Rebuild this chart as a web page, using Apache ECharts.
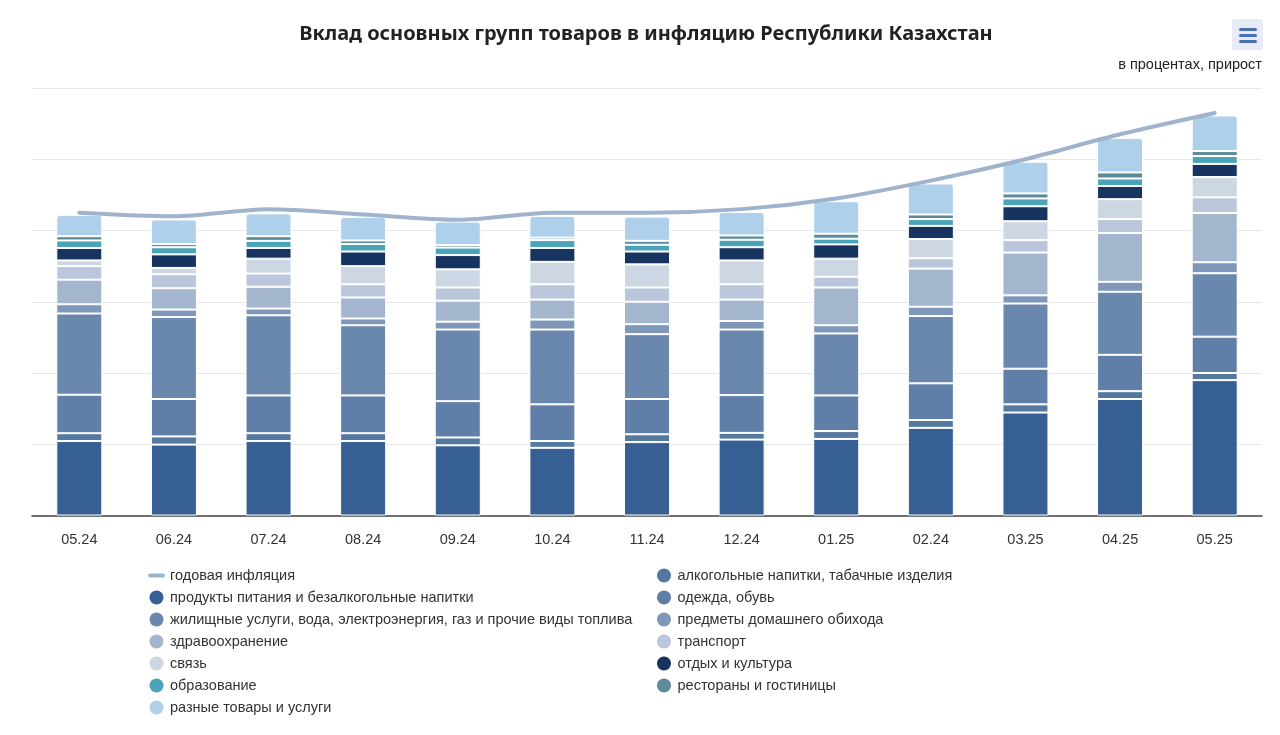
<!DOCTYPE html>
<html lang="ru">
<head>
    <meta charset="UTF-8">
    <title>Вклад основных групп товаров в инфляцию</title>
    <style>
        html, body { margin: 0; padding: 0; background: #fff; }
    </style>
</head>
<body>

<div id="main" style="width:1280px; height:735px;"></div>

<script src="https://cdn.jsdelivr.net/npm/echarts@6/dist/echarts.min.js"></script>
<script>
    // months (02.24 is written that way on the original chart)
    var months = ['05.24', '06.24', '07.24', '08.24', '09.24', '10.24', '11.24', '12.24', '01.25', '02.24', '03.25', '04.25', '05.25'];

    // percentage points
    var inflation = [8.5, 8.4, 8.6, 8.45, 8.3, 8.5, 8.5, 8.6, 8.9, 9.4, 10.0, 10.7, 11.3];
    var food = [2.09, 1.99, 2.09, 2.09, 1.97, 1.90, 2.06, 2.13, 2.15, 2.46, 2.89, 3.27, 3.80];
    var alcohol = [0.22, 0.23, 0.22, 0.22, 0.22, 0.19, 0.22, 0.19, 0.22, 0.22, 0.23, 0.22, 0.20];
    var clothing = [1.08, 1.05, 1.06, 1.06, 1.02, 1.03, 0.99, 1.06, 1.00, 1.03, 1.00, 1.02, 1.02];
    var housing = [2.28, 2.30, 2.25, 1.97, 2.01, 2.10, 1.82, 1.84, 1.74, 1.89, 1.83, 1.77, 1.78];
    var household = [0.26, 0.21, 0.19, 0.19, 0.22, 0.28, 0.28, 0.24, 0.23, 0.26, 0.23, 0.28, 0.31];
    var health = [0.69, 0.60, 0.61, 0.59, 0.59, 0.56, 0.63, 0.60, 1.06, 1.07, 1.20, 1.37, 1.38];
    var transport = [0.38, 0.39, 0.37, 0.37, 0.37, 0.43, 0.40, 0.43, 0.30, 0.29, 0.35, 0.39, 0.44];
    var communication = [0.16, 0.18, 0.42, 0.51, 0.51, 0.63, 0.65, 0.67, 0.51, 0.54, 0.53, 0.56, 0.57];
    var recreation = [0.35, 0.38, 0.30, 0.41, 0.40, 0.39, 0.36, 0.37, 0.40, 0.37, 0.42, 0.37, 0.37];
    var education = [0.21, 0.20, 0.20, 0.21, 0.21, 0.22, 0.19, 0.21, 0.16, 0.19, 0.22, 0.21, 0.22];
    var restaurants = [0.12, 0.09, 0.13, 0.10, 0.07, 0.07, 0.11, 0.12, 0.14, 0.13, 0.14, 0.17, 0.14];
    var misc = [0.60, 0.69, 0.64, 0.66, 0.66, 0.61, 0.68, 0.66, 0.91, 0.87, 0.89, 0.97, 1.00];

    var groups = [
        { name: 'продукты питания и безалкогольные напитки', data: food, color: '#365f94' },
        { name: 'алкогольные напитки, табачные изделия', data: alcohol, color: '#55789f' },
        { name: 'одежда, обувь', data: clothing, color: '#5f7ea8' },
        { name: 'жилищные услуги, вода, электроэнергия, газ и прочие виды топлива', data: housing, color: '#6a88ad' },
        { name: 'предметы домашнего обихода', data: household, color: '#7f98b9' },
        { name: 'здравоохранение', data: health, color: '#a3b6ce' },
        { name: 'транспорт', data: transport, color: '#b9c6db' },
        { name: 'связь', data: communication, color: '#cdd7e4' },
        { name: 'отдых и культура', data: recreation, color: '#17335f' },
        { name: 'образование', data: education, color: '#4ba3b8' },
        { name: 'рестораны и гостиницы', data: restaurants, color: '#5c8a9b' },
        { name: 'разные товары и услуги', data: misc, color: '#aed0ea' }
    ];
    var lineName = 'годовая инфляция';
    var lineColor = '#a0b3cd';

    var series = groups.map(function (g, i) {
        return {
            name: g.name,
            type: 'bar',
            stack: 'total',
            barWidth: 46,
            data: g.data,
            itemStyle: {
                color: g.color,
                borderColor: '#fff',
                borderWidth: 1,
                borderRadius: i === groups.length - 1 ? [3, 3, 0, 0] : 0
            }
        };
    });
    series.push({
        name: lineName,
        type: 'line',
        data: inflation,
        smooth: 0.3,
        symbol: 'none',
        z: 5,
        lineStyle: { color: lineColor, width: 4, cap: 'round' },
        itemStyle: { color: lineColor }
    });

    var legendText = { color: '#333', fontSize: 14.5, fontFamily: '"Liberation Sans", Arial, sans-serif' };
    var legendBase = {
        orient: 'vertical',
        top: 568,
        itemGap: 7,
        itemWidth: 17,
        itemHeight: 14,
        itemStyle: { borderWidth: 0 },
        padding: 0,
        selectedMode: false,
        icon: 'circle',
        textStyle: legendText
    };
    var leftNames = [
        { name: lineName, icon: 'path://M2 0H15A2 2 0 0 1 15 4H2A2 2 0 0 1 2 0Z' },
        { name: groups[0].name }, { name: groups[3].name }, { name: groups[5].name },
        { name: groups[7].name }, { name: groups[9].name }, { name: groups[11].name }
    ];
    var rightNames = [groups[1], groups[2], groups[4], groups[6], groups[8], groups[10]].map(function (g) {
        return { name: g.name };
    });

    var chart = echarts.init(document.getElementById('main'));
    chart.setOption({
        animation: false,
        backgroundColor: '#fff',
        title: [{
            text: 'Вклад основных групп товаров в инфляцию Республики Казахстан',
            left: 646,
            top: 24,
            textAlign: 'center',
            padding: 0,
            textStyle: { color: '#222', fontSize: 20, fontWeight: 'bold', fontFamily: '"Noto Sans", sans-serif' }
        }, {
            text: 'в процентах, прирост',
            right: 18,
            top: 57,
            padding: 0,
            textStyle: { color: '#222', fontSize: 14.5, fontWeight: 'normal', fontFamily: '"Liberation Sans", Arial, sans-serif' }
        }],
        legend: [
            Object.assign({}, legendBase, { left: 148, data: leftNames }),
            Object.assign({}, legendBase, { left: 657, data: rightNames })
        ],
        grid: { left: 32, right: 18, top: 88, height: 427.5 },
        xAxis: {
            type: 'category',
            data: months,
            axisTick: { show: false },
            axisLine: { lineStyle: { color: '#444', width: 1.5 } },
            axisLabel: { color: '#333', fontSize: 14.5, margin: 17, fontFamily: '"Liberation Sans", Arial, sans-serif' }
        },
        yAxis: {
            type: 'value',
            min: 0,
            max: 12,
            interval: 2,
            axisLabel: { show: false },
            axisLine: { show: false },
            axisTick: { show: false },
            splitLine: { lineStyle: { color: '#e6e6e6', width: 1 } }
        },
        // the export menu button in the corner
        graphic: [
            { type: 'rect', shape: { x: 1232, y: 19, width: 31, height: 31, r: 2 }, style: { fill: '#e6ebf5' } },
            { type: 'rect', shape: { x: 1239, y: 28, width: 18, height: 3, r: 1.5 }, style: { fill: '#4a6fb5' } },
            { type: 'rect', shape: { x: 1239, y: 34, width: 18, height: 3, r: 1.5 }, style: { fill: '#4a6fb5' } },
            { type: 'rect', shape: { x: 1239, y: 40, width: 18, height: 3, r: 1.5 }, style: { fill: '#4a6fb5' } }
        ],
        series: series
    });
</script>
</body>
</html>
